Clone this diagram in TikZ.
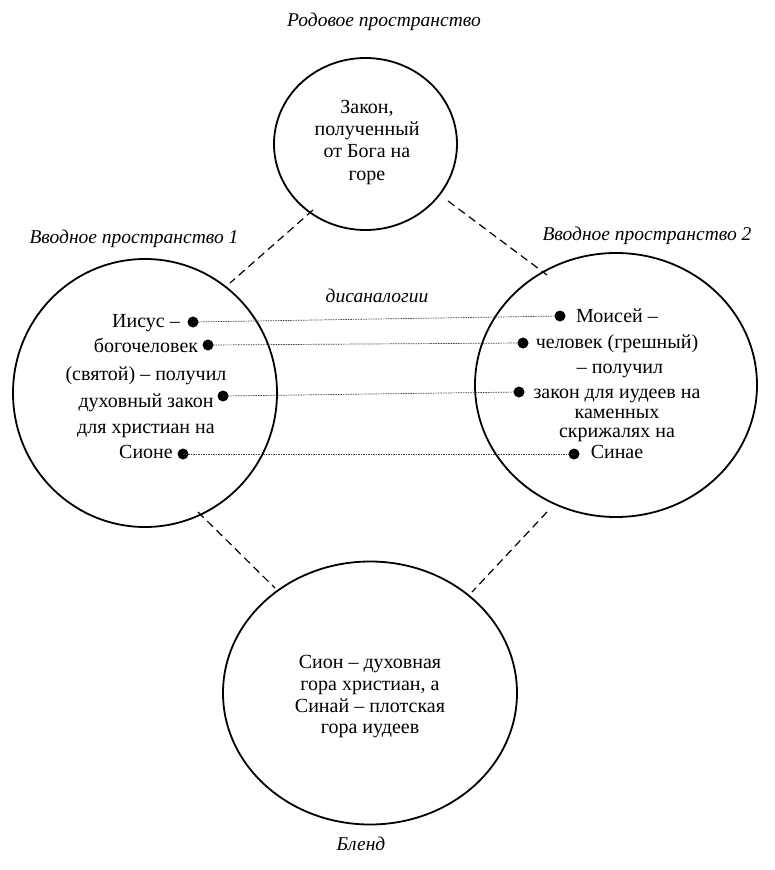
\documentclass[tikz,border=0pt]{standalone}
\usepackage{fontspec}
\setmainfont{Liberation Serif}
\usetikzlibrary{shapes.geometric}
\begin{document}
\begin{tikzpicture}[x=1pt,y=-1pt,
  space/.style={draw, ellipse, line width=1.8pt, inner sep=0pt},
  txt/.style={anchor=base, inner sep=0pt, font=\fontsize{20}{22}\selectfont},
  lbl/.style={anchor=base, inner sep=0pt, font=\fontsize{19.5}{21}\selectfont\itshape},
  dot/.style={circle, fill, inner sep=0pt, minimum size=11pt},
  link/.style={draw=black!75, line width=0.7pt, dash pattern=on 1.5pt off 1pt},
  dash line/.style={draw, line width=1.2pt, dash pattern=on 8pt off 5pt}]
\useasboundingbox (0,0) rectangle (775,870);
\fill[white] (0,0) rectangle (775,870);

% spaces
\node[space, minimum width=183pt, minimum height=172pt] (gen) at (365.5,144) {};
\node[space, minimum width=264pt, minimum height=268pt] (in1) at (145,393) {};
\node[space, minimum width=282pt, minimum height=264pt] (in2) at (616,385) {};
\node[space, minimum width=294pt, minimum height=263pt] (blend) at (370,693) {};

% labels
\node[lbl] (lgen) at (384,27) {Родовое пространство};
\node[lbl] (lin1) at (134,243) {Вводное пространство 1};
\node[lbl] (lin2) at (647,240) {Вводное пространство 2};
\node[lbl] (ldis) at (377,302) {дисаналогии};
\node[lbl] (lbl) at (361,850) {Бленд};

% generic space text
\node[txt] (g1) at (367,113) {Закон,};
\node[txt] (g2) at (367,135) {полученный};
\node[txt] (g3) at (367,157) {от Бога на};
\node[txt] (g4) at (367,180) {горе};

% input 1 text
\node[txt] (a1) at (146,327) {Иисус –};
\node[txt] (a2) at (146,352) {богочеловек};
\node[txt] (a3) at (146,380) {(святой) – получил};
\node[txt] (a4) at (146,407) {духовный закон};
\node[txt] (a5) at (146,433) {для христиан на};
\node[txt] (a6) at (146,458) {Сионе};

% input 2 text
\node[txt] (b1) at (617,322) {Моисей –};
\node[txt] (b2) at (617,348) {человек (грешный)};
\node[txt] (b3) at (620,373) {– получил};
\node[txt] (b4) at (617,398) {закон для иудеев на};
\node[txt] (b5) at (617,418) {каменных};
\node[txt] (b6) at (617,437) {скрижалях на};
\node[txt] (b7) at (617,458) {Синае};

% blend text
\node[txt] (c1) at (370,668) {Сион – духовная};
\node[txt] (c2) at (370,690) {гора христиан, а};
\node[txt] (c3) at (370,712) {Синай – плотская};
\node[txt] (c4) at (370,733) {гора иудеев};

% dots
\node[dot] (da1) at (193,322) {};
\node[dot] (da2) at (208,345) {};
\node[dot] (da3) at (223,396) {};
\node[dot] (da4) at (183,454) {};
\node[dot] (db1) at (560,316) {};
\node[dot] (db2) at (523,343) {};
\node[dot] (db3) at (519,392) {};
\node[dot] (db4) at (574,454) {};

\draw[link] (da1.center) -- (db1.center);
\draw[link] (da2.center) -- (db2.center);
\draw[link] (da3.center) -- (db3.center);
\draw[link] (da4.center) -- (db4.center);

% dashed connectors
\coordinate (gl) at (313,210);
\coordinate (il) at (230,283);
\coordinate (gr) at (448,201);
\coordinate (ir) at (547,275);
\coordinate (bl1) at (198,512);
\coordinate (bl2) at (275,588);
\coordinate (br1) at (547,512);
\coordinate (br2) at (472,592);
\draw[dash line] (gl) -- (il);
\draw[dash line] (gr) -- (ir);
\draw[dash line] (bl1) -- (bl2);
\draw[dash line] (br1) -- (br2);
\end{tikzpicture}
\end{document}
